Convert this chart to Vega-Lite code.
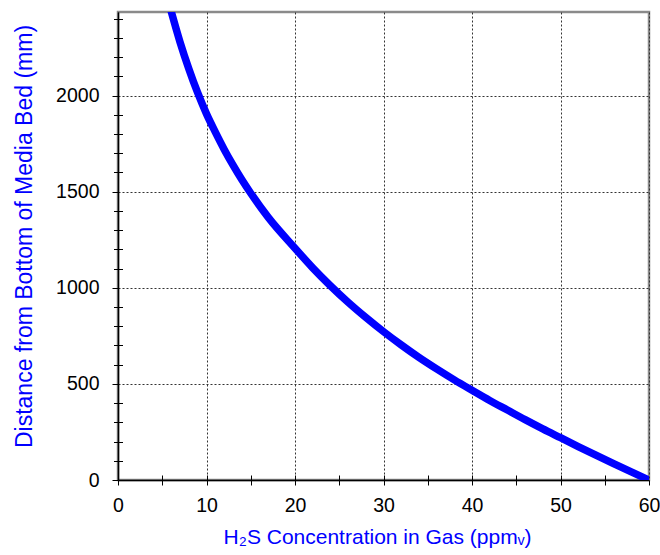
{
  "$schema": "https://vega.github.io/schema/vega-lite/v6.json",
  "width": 531,
  "height": 468,
  "autosize": {"type": "none"},
  "padding": {"left": 118, "top": 12, "right": 11, "bottom": 75},
  "background": "white",
  "config": {
    "font": "Liberation Sans",
    "view": {"stroke": "#8a8a8a", "strokeWidth": 2.5}
  },
  "data": {
    "values": [
      {"c": 6.0, "d": 2440}, {"c": 7, "d": 2280}, {"c": 8, "d": 2140}, {"c": 9, "d": 2015},
      {"c": 10, "d": 1905}, {"c": 11, "d": 1810}, {"c": 12, "d": 1720}, {"c": 13, "d": 1638},
      {"c": 14, "d": 1562}, {"c": 15, "d": 1492}, {"c": 17, "d": 1365}, {"c": 20, "d": 1206},
      {"c": 22, "d": 1104}, {"c": 24, "d": 1011}, {"c": 26, "d": 925}, {"c": 28, "d": 846},
      {"c": 30, "d": 772}, {"c": 32, "d": 703}, {"c": 34, "d": 638}, {"c": 36, "d": 578},
      {"c": 38, "d": 521}, {"c": 40, "d": 467}, {"c": 42, "d": 414}, {"c": 44, "d": 364},
      {"c": 46, "d": 314}, {"c": 48, "d": 266}, {"c": 50, "d": 220}, {"c": 52, "d": 174},
      {"c": 54, "d": 129}, {"c": 56, "d": 85}, {"c": 58, "d": 42}, {"c": 60, "d": 0}
    ]
  },
  "resolve": {"axis": {"x": "independent", "y": "independent"}},
  "layer": [
    {
      "mark": {"type": "line", "strokeOpacity": 0},
      "encoding": {
        "x": {"field": "c", "type": "quantitative", "scale": {"domain": [0, 60], "nice": false},
          "axis": {"orient": "bottom", "values": [5, 10, 15, 20, 25, 30, 35, 40, 45, 50, 55], "tickSize": -5, "tickColor": "black", "tickWidth": 1, "labels": false, "domain": false, "grid": false, "title": null}},
        "y": {"field": "d", "type": "quantitative", "scale": {"domain": [0, 2435], "nice": false},
          "axis": {"orient": "left", "values": [100,200,300,400,600,700,800,900,1100,1200,1300,1400,1600,1700,1800,1900,2100,2200,2300,2400], "tickSize": -4.5, "tickColor": "black", "tickWidth": 1, "labels": false, "domain": false, "grid": false, "title": null}}
      }
    },
    {
      "mark": {"type": "line", "strokeOpacity": 0},
      "encoding": {
        "x": {"field": "c", "type": "quantitative",
          "axis": {"orient": "bottom", "values": [5, 15, 25, 35, 45, 55], "tickSize": 5, "tickColor": "black", "tickWidth": 1, "labels": false, "domain": false, "grid": false, "title": null}},
        "y": {"field": "d", "type": "quantitative",
          "axis": {"orient": "left", "values": [100,200,300,400,600,700,800,900,1100,1200,1300,1400,1600,1700,1800,1900,2100,2200,2300,2400], "tickSize": 4.5, "tickColor": "black", "tickWidth": 1, "labels": false, "domain": false, "grid": false, "title": null}}
      }
    },
    {
      "mark": {"type": "line", "color": "#0000ff", "strokeWidth": 7.5, "clip": true, "interpolate": "monotone"},
      "encoding": {
        "x": {"field": "c", "type": "quantitative",
          "axis": {"orient": "bottom", "values": [0, 10, 20, 30, 40, 50, 60],
            "tickSize": 5, "tickColor": "black", "tickWidth": 1,
            "domainColor": "black", "domainWidth": 1.5,
            "grid": true, "gridColor": "#333333", "gridDash": [2, 2], "gridWidth": 1,
            "labelFontSize": 19.5, "labelColor": "black", "labelPadding": 11, "labelFlush": false,
            "title": "H₂S Concentration in Gas (ppmᵥ)", "titleColor": "#0000ff", "titleFontSize": 21, "titleFontWeight": "normal", "titlePadding": 12, "titleX": 259}},
        "y": {"field": "d", "type": "quantitative",
          "axis": {"orient": "left", "values": [0, 500, 1000, 1500, 2000], "format": "d",
            "tickSize": 6, "tickColor": "black", "tickWidth": 1,
            "domainColor": "black", "domainWidth": 1.5,
            "grid": true, "gridColor": "#333333", "gridDash": [2, 2], "gridWidth": 1,
            "labelFontSize": 19.5, "labelColor": "black", "labelPadding": 13, "labelFlush": false,
            "title": "Distance from Bottom of Media Bed (mm)", "titleColor": "#0000ff", "titleFontSize": 23, "titleFontWeight": "normal", "titlePadding": 19, "titleY": 224}}
      }
    }
  ]
}
